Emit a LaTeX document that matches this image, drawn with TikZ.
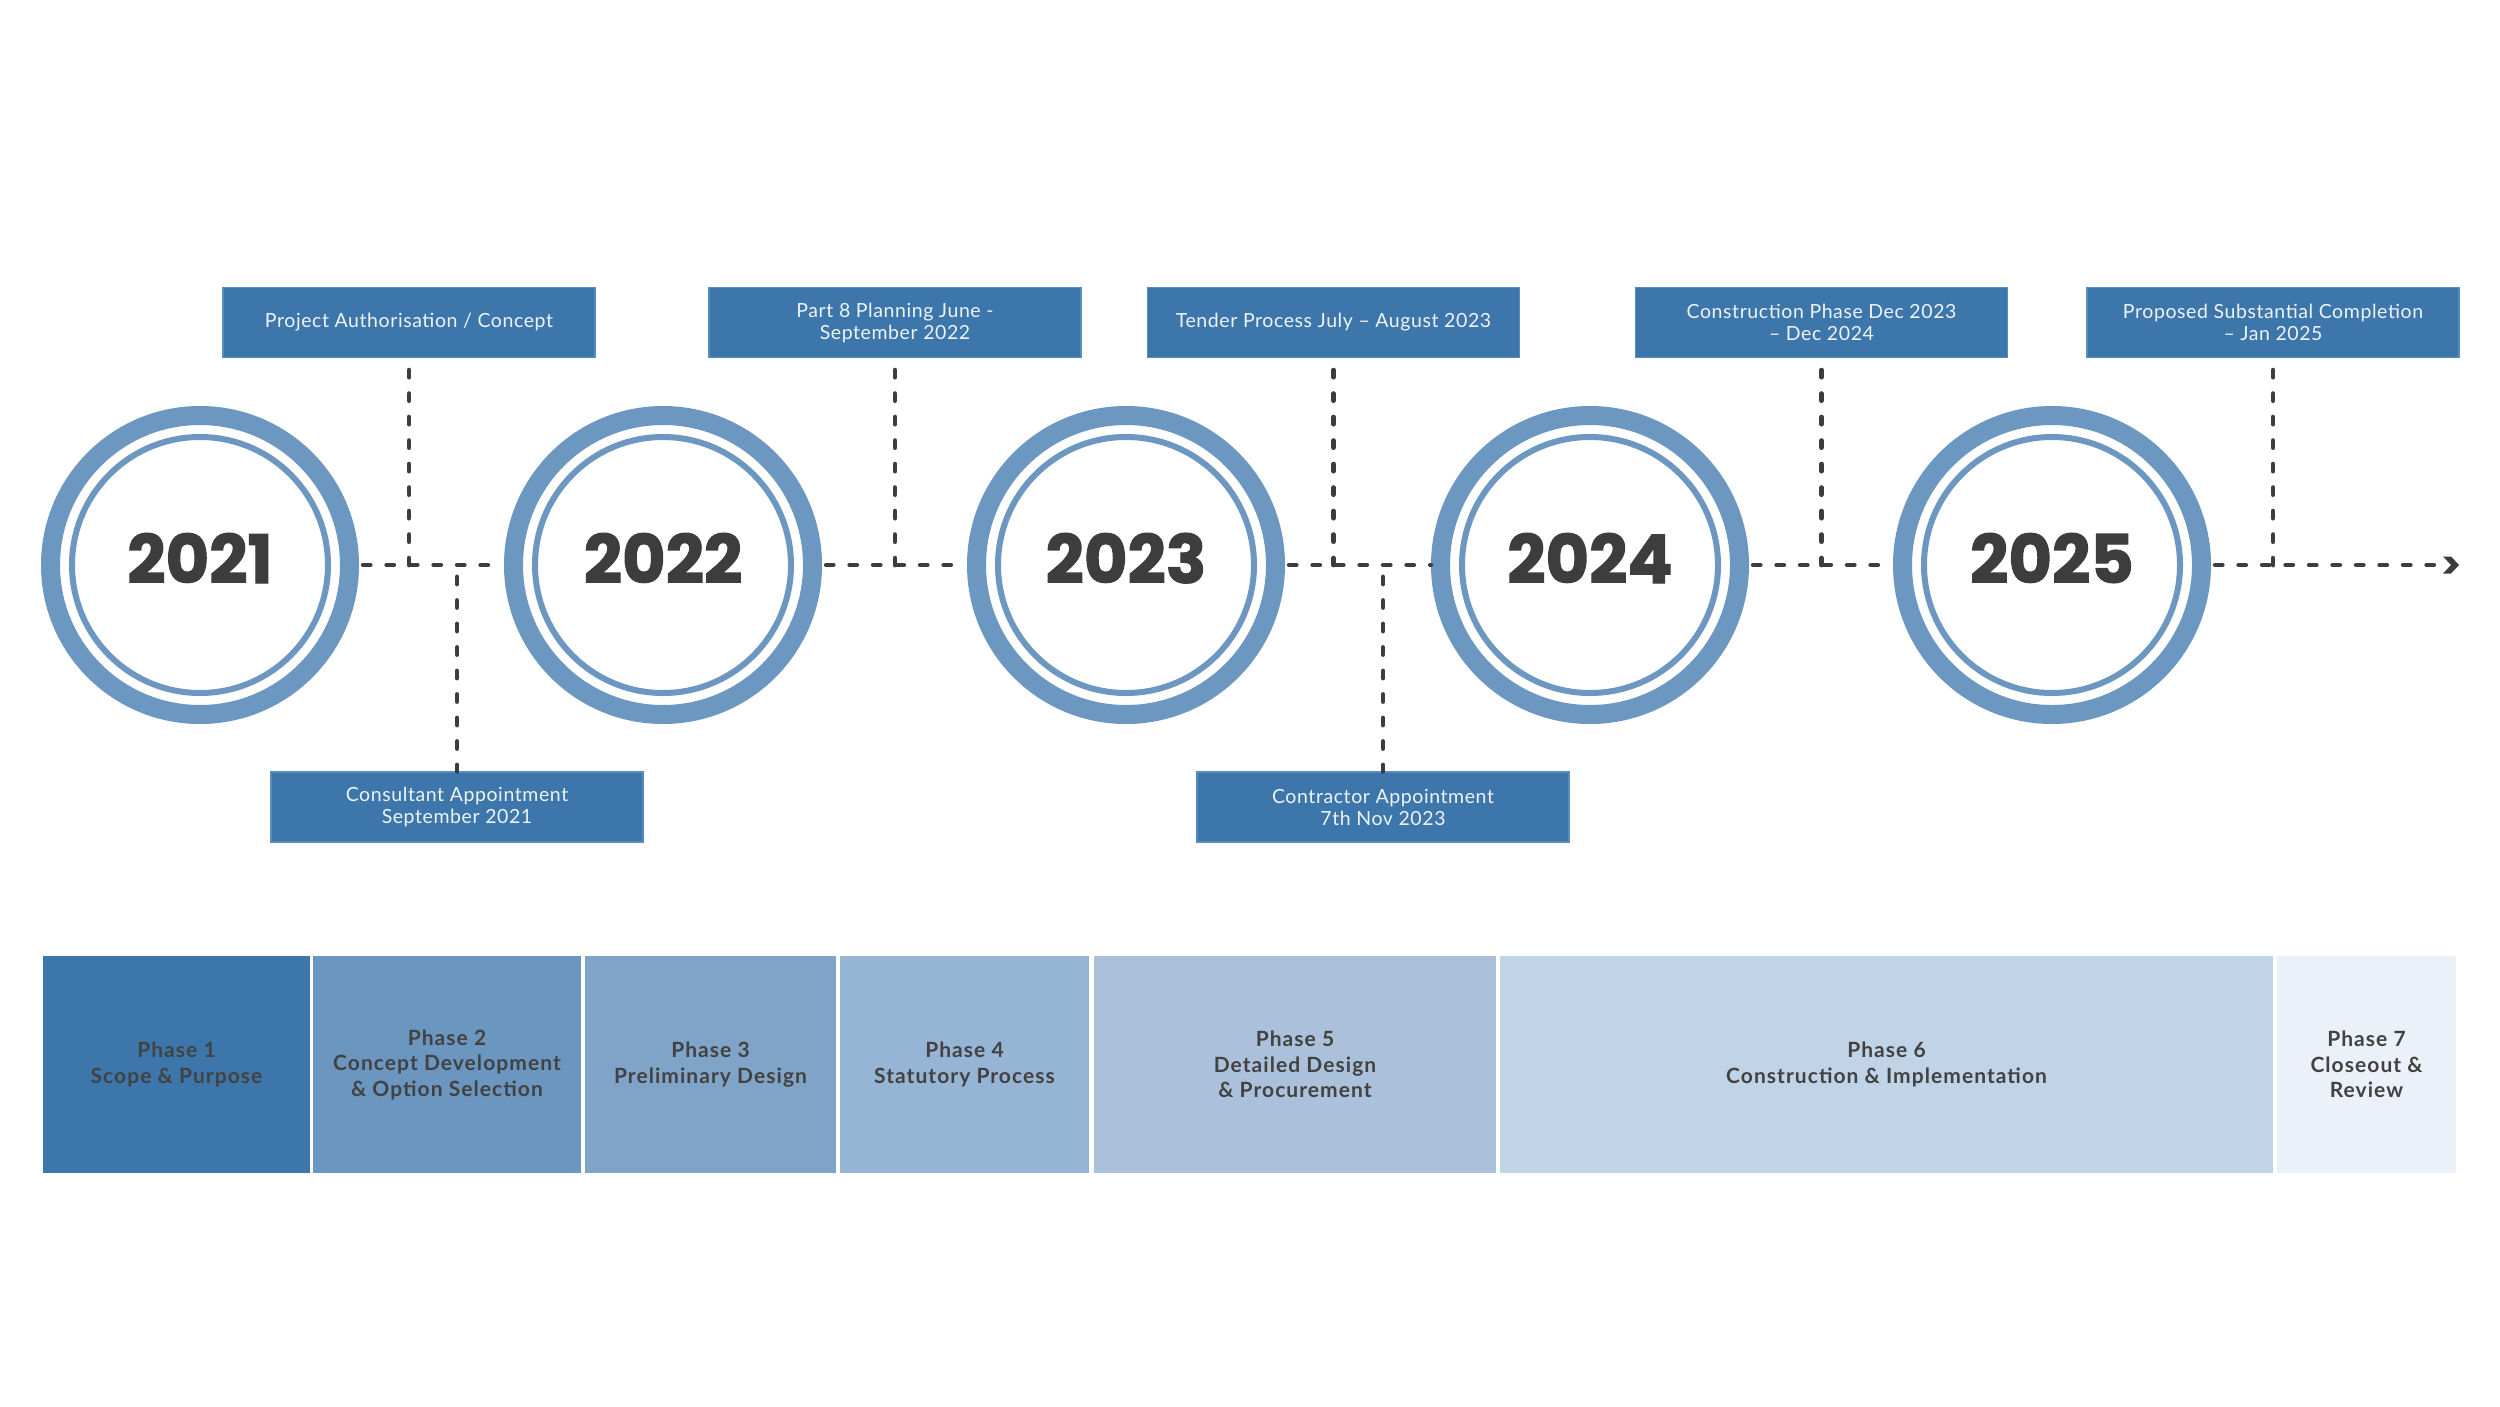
\documentclass[tikz,border=0pt]{standalone}
\usepackage{fontspec}
\setmainfont{Lato}
\newfontfamily\yearfont{Poppins}[BoldFeatures={FakeBold=1.6}]
\newfontfamily\boxfont{Lato}[LetterSpace=3]
\newfontfamily\phasefont{Lato}[LetterSpace=5]
\usetikzlibrary{calc}
\definecolor{boxblue}{HTML}{3C76AA}
\definecolor{boxedge}{HTML}{5A8DBE}
\definecolor{ringblue}{HTML}{6B97C1}
\definecolor{darktext}{HTML}{3D3D3D}
\definecolor{phasetext}{HTML}{424242}
\definecolor{boxtext}{HTML}{EEF3F8}
\definecolor{phA}{HTML}{3C76AA}
\definecolor{phB}{HTML}{6A96C0}
\definecolor{phC}{HTML}{80A4C8}
\definecolor{phD}{HTML}{96B4D4}
\definecolor{phE}{HTML}{ABC1DB}
\definecolor{phF}{HTML}{C0D3E7}
\definecolor{phG}{HTML}{EAF1F8}
\begin{document}
\begin{tikzpicture}[x=1pt,y=-1pt,
  yearcirc/.style={circle,minimum size=318pt,inner sep=0pt,draw=none},
  outerring/.style={draw=ringblue,line width=19pt},
  innerring/.style={draw=ringblue,line width=6pt},
  yeartext/.style={font=\yearfont\bfseries\fontsize{67}{67}\selectfont,text=darktext,inner sep=0pt,anchor=base},
  eventbox/.style={fill=boxblue,draw=boxedge,line width=1.2pt,minimum width=372pt,minimum height=70pt,inner sep=0pt,
    text=boxtext,align=center,font=\boxfont\fontsize{19.5}{22}\selectfont},
  phasebox/.style={draw=none,minimum height=217pt,inner sep=0pt,align=center,text=phasetext,
    font=\phasefont\bfseries\fontsize{21}{25.5}\selectfont},
  dashline/.style={draw=darktext,line width=4.8pt,line cap=round,dash pattern=on 7pt off 16.5pt}
]
\useasboundingbox[fill=white] (0,0) rectangle (2500,1406);

% year circles
\foreach \n/\cx/\yr in {y1/200/2021,y2/663/2022,y3/1126/2023,y4/1590/2024,y5/2052/2025}{
  \node[yearcirc] (\n) at (\cx,565) {};
  \draw[outerring] (\n.center) circle (149.5pt);
  \draw[innerring] (\n.center) circle (128pt);
  \node[yeartext] (\n t) at ([yshift=-18pt]\n.center) {\yr};
}

% timeline
\coordinate (tl) at (0,565);
\coordinate (arrowend) at (2440,565);
\draw[dashline] ([xshift=4pt]y1.east) -- (y2.west);
\draw[dashline] ([xshift=4pt]y2.east) -- (y3.west);
\draw[dashline] ([xshift=4pt]y3.east) -- (y4.west);
\draw[dashline] ([xshift=4pt]y4.east) -- (y5.west);
\draw[dashline] ([xshift=4pt]y5.east) -- (arrowend);
\fill[darktext] ($(arrowend)+(3,-8.5)$) -- ++(8,0) -- ++(8,8.5) -- ++(-8,8.5) -- ++(-8,0) -- ++(8,-8.5) -- cycle;

% event boxes
\node[eventbox] (b1) at (409,322.5) {Project Authorisation / Concept};
\node[eventbox] (b2) at (895,322.5) {Part 8 Planning June -\\September 2022};
\node[eventbox] (b3) at (1333.5,322.5) {Tender Process July – August 2023};
\node[eventbox] (b4) at (1821.5,322.5) {Construction Phase Dec 2023\\– Dec 2024};
\node[eventbox] (b5) at (2273,322.5) {Proposed Substantial Completion\\– Jan 2025};
\node[eventbox] (c1) at (457,807) {Consultant Appointment\\September 2021};
\node[eventbox] (c2) at (1383,807) {Contractor Appointment\\7th Nov 2023};

% connectors
\foreach \b in {b1,b2,b3,b4,b5}{
  \draw[dashline] ([yshift=-12pt]\b.south) -- (\b.south |- tl);
}
\foreach \c in {c1,c2}{
  \draw[dashline] (\c.north |- tl) ++(0,12) -- (\c.north);
}

% phases
\node[phasebox,fill=phA,minimum width=267pt] (p1) at (176.5,1064.5) {Phase 1\\Scope \& Purpose};
\node[phasebox,fill=phB,minimum width=268pt] (p2) at (447,1064.5) {Phase 2\\Concept Development\\\& Option Selection};
\node[phasebox,fill=phC,minimum width=251pt] (p3) at (710.5,1064.5) {Phase 3\\Preliminary Design};
\node[phasebox,fill=phD,minimum width=249pt] (p4) at (964.5,1064.5) {Phase 4\\Statutory Process};
\node[phasebox,fill=phE,minimum width=402pt] (p5) at (1295,1064.5) {Phase 5\\Detailed Design\\\& Procurement};
\node[phasebox,fill=phF,minimum width=773pt] (p6) at (1886.5,1064.5) {Phase 6\\Construction \& Implementation};
\node[phasebox,fill=phG,minimum width=179pt] (p7) at (2366.5,1064.5) {Phase 7\\Closeout \&\\Review};
\end{tikzpicture}
\end{document}
